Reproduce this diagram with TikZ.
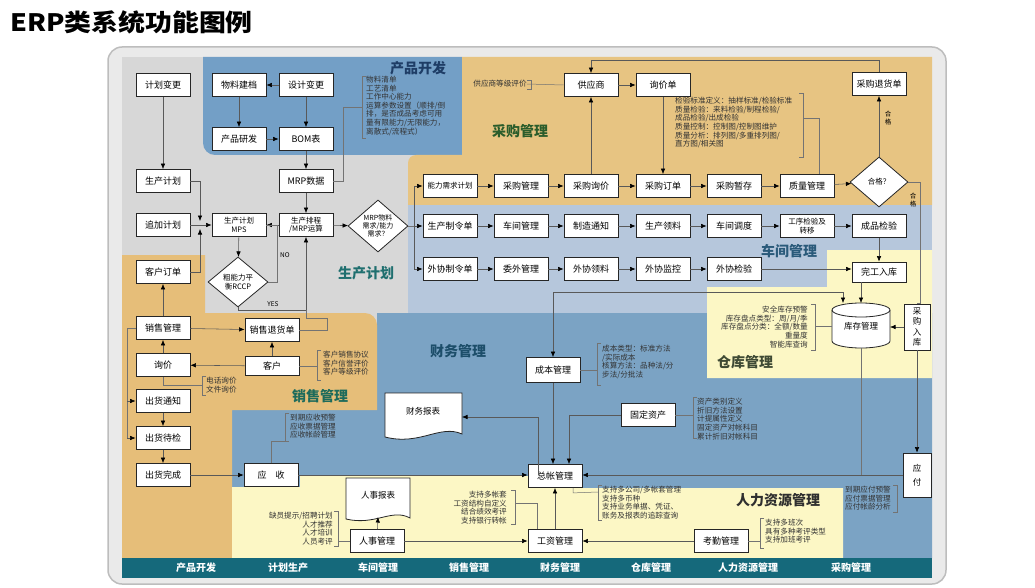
\documentclass[tikz,border=0pt]{standalone}
\usepackage{fontspec}
\setmainfont{Noto Sans CJK SC}
\usetikzlibrary{arrows.meta,shapes.geometric,calc}
\definecolor{framec}{HTML}{EAEAEA}
\definecolor{frameb}{HTML}{BDBDBD}
\definecolor{grayreg}{HTML}{D7D7D7}
\definecolor{prodblue}{HTML}{739FC6}
\definecolor{purtan}{HTML}{E7C482}
\definecolor{shopblue}{HTML}{B6C7DC}
\definecolor{finblue}{HTML}{7BA3C4}
\definecolor{saltan}{HTML}{E6BE79}
\definecolor{yel}{HTML}{FCF7C5}
\definecolor{footc}{HTML}{15697B}
\definecolor{cprod}{HTML}{1E3D66}
\definecolor{cpur}{HTML}{2B5D2B}
\definecolor{cplan}{HTML}{1F6F6F}
\definecolor{cshop}{HTML}{2A5A7A}
\definecolor{cwh}{HTML}{3F4A34}
\definecolor{cfin}{HTML}{1D4E6A}
\definecolor{csal}{HTML}{1E6B5B}
\definecolor{chr}{HTML}{2F2F2F}
\newcommand\lbrk[3]{\draw[brk] (#1+4,#2) -- (#1,#2) -- (#1,#3) -- (#1+4,#3);}
\newcommand\rbrk[3]{\draw[brk] (#1-4,#2) -- (#1,#2) -- (#1,#3) -- (#1-4,#3);}
\begin{document}
\begin{tikzpicture}[x=1pt,y=-1pt,
 box/.style={draw=black!85, fill=white, line width=0.8pt, minimum width=54pt, minimum height=23pt, inner sep=1pt, align=center, font=\fontsize{9}{10}\selectfont},
 dia/.style={diamond, draw=black!85, fill=white, line width=0.8pt, inner sep=0pt, aspect=1.15, align=center, font=\fontsize{7}{8}\selectfont},
 note/.style={inner sep=0pt, align=left, font=\fontsize{7.6}{8.6}\selectfont, text=black!80},
 noter/.style={note, align=right},
 arr/.style={-{Latex[length=5.5pt,width=4.5pt,black]}, line width=0.55pt, draw=black!65},
 ln/.style={line width=0.5pt, draw=black!55},
 brk/.style={line width=0.5pt, draw=black!55},
 reg/.style={font=\fontsize{14}{16}\selectfont\bfseries},
 foot/.style={font=\fontsize{10}{12}\selectfont\bfseries, text=white},
 small/.style={font=\fontsize{6.5}{7.5}\selectfont, inner sep=0pt, align=center}]
\useasboundingbox (0,0) rectangle (1035,588);
\fill[white] (0,0) rectangle (1035,588);
% title
\node[anchor=west, inner sep=0pt, font=\fontsize{24}{28}\selectfont\bfseries] (title) at (10,22) {\scalebox{1.12}[1]{ERP类系统功能图例}};
% frame
\draw[frameb, fill=framec, line width=1.5pt, rounded corners=14pt] (108,47) rectangle (946,584);
\fill[grayreg] (122,57) rectangle (932,558);
% regions
\fill[prodblue] (203,57) -- (462,57) -- (462,155) -- (215,155) arc[start angle=270,end angle=180,radius=12pt] -- cycle;
\fill[purtan] (462,57) -- (932,57) -- (932,205) -- (408,205) -- (408,163) arc[start angle=180,end angle=90,radius=8pt] -- (462,155) -- cycle;
\fill[shopblue] (408,205) rectangle (932,313);
\fill[finblue] (377,313) -- (932,313) -- (932,558) -- (232,558) -- (232,410) -- (377,410) -- cycle;
\fill[saltan] (122,255) -- (205,255) -- (205,313) -- (365,313) arc[start angle=90,end angle=0,radius=12pt] -- (377,410) -- (232,410) -- (232,558) -- (122,558) -- cycle;
\fill[yel] (827,250) -- (932,250) -- (932,378) -- (707,378) -- (707,287) -- (827,287) -- cycle;
\fill[yel] (232,487) -- (300,487) -- (300,476) -- (555,476) -- (555,488) -- (843,488) -- (843,558) -- (232,558) -- cycle;
\fill[footc] (122,558) rectangle (932,578);
% region labels
\node[reg, text=cprod] (lprod) at (418,68) {产品开发};
\node[reg, text=cpur] (lpur) at (520,131) {采购管理};
\node[reg, text=cplan] (lplan) at (366,273) {生产计划};
\node[reg, text=cshop] (lshop) at (789,251) {车间管理};
\node[reg, text=cwh] (lwh) at (745,362) {仓库管理};
\node[reg, text=cfin] (lfin) at (458,351) {财务管理};
\node[reg, text=csal] (lsal) at (320,396) {销售管理};
\node[reg, text=chr] (lhr) at (778,500) {人力资源管理};
% footer
\node[foot] (f1) at (196,568) {产品开发};
\node[foot] (f2) at (288,568) {计划生产};
\node[foot] (f3) at (378,568) {车间管理};
\node[foot] (f4) at (469,568) {销售管理};
\node[foot] (f5) at (560,568) {财务管理};
\node[foot] (f6) at (651,568) {仓库管理};
\node[foot] (f7) at (748,568) {人力资源管理};
\node[foot] (f8) at (851,568) {采购管理};
% left column
\node[box] (jhbg) at (163,85) {计划变更};
\node[box] (scjh) at (163,181) {生产计划};
\node[box] (zjjh) at (163,225) {追加计划};
\node[box] (khdd) at (163,272) {客户订单};
\node[box] (xsgl) at (163,328) {销售管理};
\node[box] (xj) at (163,365) {询价};
\node[box] (chtz) at (163,401) {出货通知};
\node[box] (chdj) at (163,438) {出货待检};
\node[box] (chwc) at (163,475) {出货完成};
% product development
\node[box] (wljd) at (239,85) {物料建档};
\node[box] (sjbg) at (306,85) {设计变更};
\node[box] (cpyf) at (239,139) {产品研发};
\node[box] (bom) at (306,139) {BOM表};
% production plan
\node[box] (mrpsj) at (306,181) {MRP数据};
\node[box, font=\fontsize{7.5}{8.5}\selectfont] (mps) at (239,225) {生产计划\\MPS};
\node[box, font=\fontsize{7.5}{8.5}\selectfont] (scpc) at (306,225) {生产排程\\/MRP运算};
\node[dia, minimum width=60pt, minimum height=52pt] (dmrp) at (378,226) {MRP物料\\需求/能力\\需求？};
\node[dia, minimum width=60pt, minimum height=50pt, font=\fontsize{7.5}{9}\selectfont] (drccp) at (238,282) {粗能力平\\衡RCCP};
\node[small] (lno) at (285,255) {NO};
\node[small] (lyes) at (273,304) {YES};
% purchase
\node[box, font=\fontsize{7.5}{9}\selectfont] (nlxq) at (450,186) {能力需求计划};
\node[box] (cggl) at (521,186) {采购管理};
\node[box] (cgxj) at (591,186) {采购询价};
\node[box] (cgdd) at (663,186) {采购订单};
\node[box] (cgzc) at (734,186) {采购暂存};
\node[box] (zlgl) at (807,186) {质量管理};
\node[dia, minimum width=58pt, minimum height=50pt, font=\fontsize{7.5}{9}\selectfont] (dhg) at (879,182) {合格？};
\node[box] (cgth) at (879,84) {采购退货单};
\node[box] (gys) at (591,85) {供应商};
\node[box] (xjd) at (663,85) {询价单};
\node[note] (gysn) at (500,84) {供应商等级评价};
% workshop
\node[box] (sczl) at (450,226) {生产制令单};
\node[box] (cjgl) at (521,226) {车间管理};
\node[box] (zztz) at (591,226) {制造通知};
\node[box] (scll) at (663,226) {生产领料};
\node[box] (cjdd) at (734,226) {车间调度};
\node[box, font=\fontsize{7.5}{8.5}\selectfont] (gxjy) at (807,226) {工序检验及\\转移};
\node[box] (cpjy) at (879,226) {成品检验};
% outsourcing
\node[box] (wxzl) at (450,269) {外协制令单};
\node[box] (wwgl) at (521,269) {委外管理};
\node[box] (wxll) at (591,269) {外协领料};
\node[box] (wxjk) at (663,269) {外协监控};
\node[box] (wxjy) at (734,269) {外协检验};
% warehouse
\node[box, minimum height=20pt] (wgrk) at (879,272) {完工入库};
\fill[white] (832,310) -- (832,341) arc[start angle=180,end angle=360,x radius=29pt,y radius=7pt] -- (890,310) arc[start angle=0,end angle=180,x radius=29pt,y radius=7pt] -- cycle;
\draw[black!85, line width=0.8pt] (832,310) -- (832,341) arc[start angle=180,end angle=360,x radius=29pt,y radius=7pt] -- (890,310);
\draw[black!85, line width=0.8pt] (861,310) ellipse[x radius=29pt,y radius=7pt];
\node[inner sep=0pt, minimum width=58pt, minimum height=44pt, font=\fontsize{8.5}{10}\selectfont] (kcgl) at (861,326) {\raisebox{-3pt}{库存管理}};
\node[box, minimum width=26pt, minimum height=46pt, font=\fontsize{8.5}{10.5}\selectfont] (cgrk) at (917,327) {采\\购\\入\\库};
\node[box, minimum width=28pt, minimum height=44pt, font=\fontsize{8.5}{14}\selectfont] (yf) at (917,475) {应\\付};
% finance
\node[box, minimum height=25pt] (cbgl) at (553,370) {成本管理};
\node[box] (gdzc) at (648,415) {固定资产};
\node[box] (ys) at (271,475) {应\quad 收};
\node[box] (zzgl) at (555,476) {总帐管理};
\fill[white] (385,393) -- (462,393) -- (462,434) .. controls (440,424) and (420,446) .. (385,437) -- cycle;
\draw[black!85, line width=0.8pt] (385,393) -- (462,393) -- (462,434) .. controls (440,424) and (420,446) .. (385,437) -- cycle;
\node[inner sep=0pt, font=\fontsize{8.5}{10}\selectfont] (cwbb) at (423,411) {财务报表};
\coordinate (cwbbE) at (462,417);
% HR
\fill[white] (346,478) -- (410,478) -- (410,518) .. controls (392,508) and (375,526) .. (346,519) -- cycle;
\draw[black!85, line width=0.8pt] (346,478) -- (410,478) -- (410,518) .. controls (392,508) and (375,526) .. (346,519) -- cycle;
\node[inner sep=0pt, font=\fontsize{8.5}{10}\selectfont] (rsbb) at (378,495) {人事报表};
\coordinate (rsbbS) at (378,517);
\node[box] (rsgl) at (377,541) {人事管理};
\node[box] (gzgl) at (555,541) {工资管理};
\node[box] (kqgl) at (721,541) {考勤管理};
% sales
\node[box] (xsth) at (272,330) {销售退货单};
\node[box, minimum height=19pt] (kh) at (272,366) {客户};
% notes
\node[note, anchor=north west] (pn) at (366,76) {物料清单\\工艺清单\\工作中心能力\\运算参数设置（顺排/倒\\排，是否成品考虑可用\\量有限能力/无限能力，\\离散式/流程式）};
\lbrk{362}{76}{138}
\node[note, anchor=north west] (qn) at (675,97) {检验标准定义：抽样标准/检验标准\\质量检验：来料检验/制程检验/\\成品检验/出成检验\\质量控制：控制图/控制图维护\\质量分析：排列图/多重排列图/\\直方图/相关图};
\rbrk{803}{93}{157}
\node[noter, anchor=north east] (whn) at (808,306) {安全库存预警\\库存盘点类型：周/月/季\\库存盘点分类：全额/数量\\重量度\\智能库查询};
\rbrk{815}{304}{350}
\coordinate (whb) at (815,326);
\node[note, anchor=north west] (cbn) at (602,345) {成本类型：标准方法\\/实际成本\\核算方法：品种法/分\\步法/分批法};
\lbrk{597}{343}{385}
\node[note, anchor=north west] (gdn) at (697,398) {资产类别定义\\折旧方法设置\\计提属性定义\\固定资产对帐科目\\累计折旧对帐科目};
\lbrk{693}{397}{438}
\node[note, anchor=north west] (ysn) at (290,414) {到期应收预警\\应收票据管理\\应收帐龄管理};
\lbrk{285}{413}{441}
\node[note, anchor=north west] (xjn) at (206,377) {电话询价\\文件询价};
\lbrk{202}{376}{395}
\node[note, anchor=north west] (khn) at (323,351) {客户销售协议\\客户信誉评价\\客户等级评价};
\lbrk{317}{350}{380}
\node[noter, anchor=north east] (rsn) at (333,512) {缺员提示/招聘计划\\人才推荐\\人才培训\\人员考评};
\rbrk{338}{511}{546}
\node[noter, anchor=north east] (gzn) at (507,491) {支持多帐套\\工资结构自定义\\结合绩效考评\\支持银行转帐};
\rbrk{515}{490}{524}
\node[note, anchor=north west] (zzn) at (602,486) {支持多公司/多帐套管理\\支持多币种\\支持业务单据、凭证、\\账务及报表的追踪查询};
\lbrk{598}{485}{520}
\node[note, anchor=north west] (kqn) at (765,519) {支持多班次\\具有多种考评类型\\支持加班考评};
\lbrk{760}{518}{548}
\node[note, anchor=north west] (yfn) at (845,486) {到期应付预警\\应付票据管理\\应付帐龄分析};
\rbrk{897}{485}{512}
% connectors: product/plan
\coordinate (jn) at (200,225);
\coordinate (topy) at (0,60);
\draw[arr] (jhbg) -- (scjh);
\draw[arr] (scjh.east) -| ([yshift=4pt]jn);
\draw[arr] (khdd.east) -| ([yshift=-4pt]jn);
\draw[arr] (zjjh.east) -- (mps.west);
\draw[arr] (sjbg) -- (wljd);
\draw[arr] (wljd) -- (cpyf);
\draw[arr] (cpyf) -- (bom);
\draw[arr] (sjbg) -- (bom);
\draw[arr] (bom) -- (mrpsj);
\draw[arr] (mrpsj) -- (scpc);
\draw[arr] (scpc) -- (mps);
\draw[arr] (scpc) -- (dmrp);
\draw[arr] (mps) -- (drccp);
\draw[ln] (drccp.east) -- ++(9,0) |- (mps.east);
\draw[arr] (drccp.south) -- ++(0,3) -| (scpc.south);
\draw[ln] (mrpsj.east) -- (343,181) -- (343,107) -- (362,107);
% connectors: MRP split
\draw[ln] (dmrp.east) -- ++(6,0) coordinate (dj);
\draw[arr] (dj) |- (nlxq.west);
\draw[arr] (dj) -- (sczl.west);
\draw[arr] (dj) |- (wxzl.west);
% purchase chain
\draw[arr] (nlxq) -- (cggl);
\draw[arr] (cggl) -- (cgxj);
\draw[arr] (cgxj) -- (cgdd);
\draw[arr] (cgdd) -- (cgzc);
\draw[arr] (cgzc) -- (zlgl);
\draw[arr] (zlgl) -- (dhg);
\draw[arr] (cgxj) -- (gys);
\draw[arr] (gys) -- (xjd);
\draw[arr] (xjd) -- (cgdd);
\draw[arr] (cgth.north) -- (cgth.north |- topy) -| (gys.north);
\draw[arr] (dhg) -- (cgth);
\node[small] (hg1) at (888,118) {合\\格};
\node[small] (hg2) at (913,200) {合\\格};
\draw[ln] (gysn.east) -- (gys.west);
\rbrk{531}{80}{89}
\draw[ln] (803,118) -| ([xshift=12pt]zlgl.north);
\draw[ln] (dhg.east) -- (920,182) |- (cgrk.north);
% workshop chain
\draw[arr] (sczl) -- (cjgl);
\draw[arr] (cjgl) -- (zztz);
\draw[arr] (zztz) -- (scll);
\draw[arr] (scll) -- (cjdd);
\draw[arr] (cjdd) -- (gxjy);
\draw[arr] (gxjy) -- (cpjy);
\draw[arr] (cpjy) -- (wgrk);
% outsourcing chain
\draw[arr] (wxzl) -- (wwgl);
\draw[arr] (wwgl) -- (wxll);
\draw[arr] (wxll) -- (wxjk);
\draw[arr] (wxjk) -- (wxjy);
\draw[arr] (wxjy.east) -- (wxjy.east -| wgrk.west);
% warehouse
\coordinate (k1) at (843,303);
\coordinate (k2) at (861,303);
\coordinate (hline) at (553,292);
\draw[arr] (wgrk.south -| k2) -- (k2);
\draw[arr] (hline) -- (k1 |- hline) -- (k1);
\draw[arr] (hline) -- (cbgl.north);
\draw[ln] (whb) -- (832,326);
\draw[arr] (cgrk.west) -- (890,327);
\draw[arr] (cgrk) -- (yf);
\draw[ln] (861,348) -- (861,475);
% finance
\draw[ln] (cbgl.east) -- (597,370);
\draw[arr] (cbgl.south) -- (cbgl.south |- zzgl.north);
\draw[arr] (gdzc.west) -| ([xshift=14pt]zzgl.north);
\draw[ln] (gdzc.east) -- (693,415);
\draw[arr] (yf.west) -- (yf.west -| zzgl.east);
\draw[arr] (ys.east) -- (ys.east -| zzgl.west);
\draw[arr] (538,475) |- (cwbbE);
\draw[arr] (chwc) -- (ys);
\draw[ln] (ys.north) -- (271,441) -- (285,441);
\draw[ln] ([xshift=18pt]zzgl.south) -- ++(0,5) -- (598,492);
% HR
\draw[arr] (rsgl) -- (rsbbS);
\draw[arr] (rsgl) -- (gzgl);
\draw[arr] (gzgl) -- (zzgl);
\draw[arr] (kqgl) -- (gzgl);
\draw[ln] (338,541) -- (rsgl.west);
\draw[ln] (515,503) -| ([xshift=-18pt]gzgl.north);
\draw[ln] (kqgl.east) -- (760,541);
% sales
\draw[arr] (xsgl) -- (khdd);
\draw[arr] (xsgl) -- (xsth);
\draw[arr] (kh) -- (xsth);
\draw[arr] (kh) -- (xj);
\draw[arr] (xj) -- (xsgl);
\draw[arr] (chtz) -- (chdj);
\draw[arr] (chdj) -- (chwc);
\draw[ln] (kh.east) -- (317,366);
\draw[ln] (xj.south) |- (202,385);
\draw[ln] (xsth.east) -- (327,330) -- (327,318) -- (306,318) -- (306,310);
\draw[ln] (xsgl.west) -- (127,328) -- (127,438);
\draw[arr] (127,401) -- (chtz.west);
\draw[arr] (127,438) -- (chdj.west);
\end{tikzpicture}
\end{document}
